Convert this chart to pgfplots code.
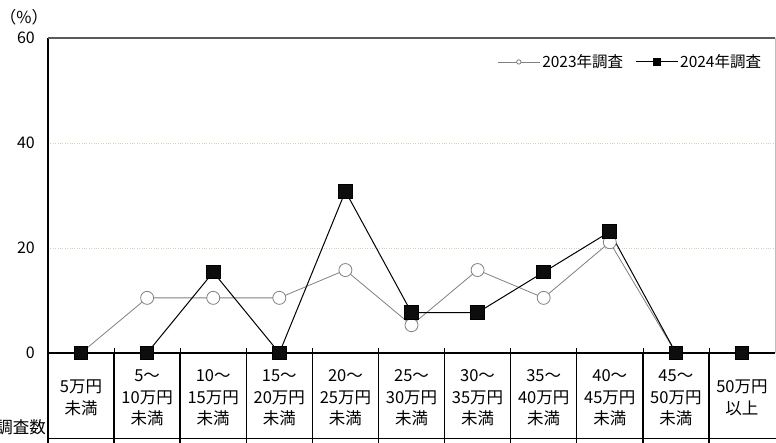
\documentclass[border=0pt]{standalone}
\usepackage{pgfplots}
\pgfplotsset{compat=1.18}
\usepackage{fontspec}
\setmainfont{Noto Sans CJK JP}

\definecolor{gridc}{RGB}{214,206,178}
\definecolor{g23}{RGB}{128,128,128}
\definecolor{topc}{RGB}{90,90,90}
\definecolor{rightc}{RGB}{190,190,190}

\begin{document}
\begin{tikzpicture}[font=\fontsize{16.5}{21.5}\selectfont]
\useasboundingbox (0pt,0pt) rectangle (776pt,443pt);
\begin{axis}[
    at={(48pt,90pt)}, anchor=south west,
    width=727pt, height=315pt, scale only axis,
    xmin=-0.5, xmax=10.5,
    ymin=0, ymax=60,
    ytick={0,20,40,60},
    xtick={0.5,1.5,...,9.5},
    xticklabels={},
    xtick pos=bottom,
    tick align=inside,
    major tick length=5pt,
    xtick style={black, line width=0.6pt},
    ytick style={draw=none},
    ymajorgrids=true,
    grid style={gridc, dotted, line width=0.8pt},
    axis line style={draw=none},
    clip=false,
    /pgf/number format/assume math mode=true,
    yticklabel style={font=\fontsize{16}{18}\selectfont, inner sep=0pt, xshift=-13pt},
    legend style={at={(rel axis cs:0.988,0.924)}, anchor=east, draw=none, fill=white,
        legend columns=2, font=\fontsize{15.5}{18}\selectfont,
        /tikz/every even column/.append style={column sep=10pt}},
    legend image code/.code={
        \draw[#1,mark=none] (0pt,0pt) -- (42pt,0pt);
        \draw[#1] plot coordinates {(21pt,0pt)};
    },
]
\addlegendimage{g23, line width=0.8pt, mark=*, mark size=2.2pt, mark options={fill=white, draw=g23}}
\addlegendentry{2023年調査}
\addlegendimage{black, line width=1pt, mark=square*, mark size=3.5pt}
\addlegendentry{2024年調査}

% 2023 (n=19)
\addplot[forget plot, g23, line width=0.8pt, mark=*, mark size=6.5pt,
    mark options={fill=white, draw=g23, line width=0.8pt}]
    coordinates {
    (0,0) (1,10.5) (2,10.5) (3,10.5) (4,15.8) (5,5.3)
    (6,15.8) (7,10.5) (8,21.1) (9,0) (10,0)
    };

% 2024 (n=13)
\addplot[forget plot, black, line width=1pt, mark=square*, mark size=6.8pt,
    mark options={fill=black!95}]
    coordinates {
    (0,0) (1,0) (2,15.4) (3,0) (4,30.8) (5,7.7)
    (6,7.7) (7,15.4) (8,23.1) (9,0) (10,0)
    };

\draw[black, line width=1.2pt] (rel axis cs:0,0) -- (rel axis cs:0,1);
\draw[topc, line width=1.5pt] (rel axis cs:0,1) -- (rel axis cs:1,1);
\draw[rightc, line width=0.8pt] (rel axis cs:1,0) -- (rel axis cs:1,1);
\draw[black, line width=1.2pt] (rel axis cs:0,0) -- (rel axis cs:1,0);
\end{axis}

% table below the axis
\foreach \k in {0,...,10}
    \draw[black, line width=1.5pt] ({48pt+66.09pt*\k},90pt) -- ({48pt+66.09pt*\k},0pt);
\draw[black, line width=1.5pt] (48pt,4.5pt) -- (776pt,4.5pt);
\foreach \k/\t in {0/{5万円\\未満}, 1/{5～\\10万円\\未満}, 2/{10～\\15万円\\未満},
    3/{15～\\20万円\\未満}, 4/{20～\\25万円\\未満}, 5/{25～\\30万円\\未満},
    6/{30～\\35万円\\未満}, 7/{35～\\40万円\\未満}, 8/{40～\\45万円\\未満},
    9/{45～\\50万円\\未満}, 10/{50万円\\以上}}
    \node[align=center, inner sep=0pt] at ({48pt+66.09pt*(\k+0.5)},45pt) {\t};

\node[anchor=south east, inner sep=0pt] at (46pt,8pt) {調査数};
\node[inner sep=0pt] at (24pt,426pt) {（\%）};
\end{tikzpicture}
\end{document}
